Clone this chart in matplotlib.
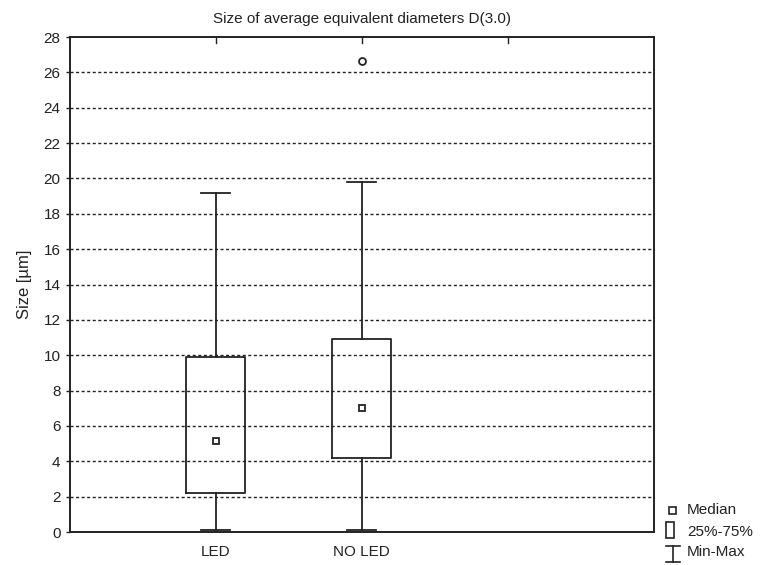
import matplotlib
matplotlib.use("Agg")
import matplotlib.pyplot as plt
from matplotlib.lines import Line2D
from matplotlib.patches import Rectangle

plt.rcParams['font.family'] = ['Liberation Sans', 'DejaVu Sans']

categories = ["LED", "NO LED"]
mins = [0.1, 0.1]
q1s = [2.2, 4.2]
medians = [5.15, 7.0]
q3s = [9.9, 10.9]
maxs = [19.2, 19.8]
outliers = [[], [26.65]]
yticks = list(range(0, 29, 2))

fig = plt.figure(figsize=(7.7, 5.65), dpi=100)
ax = fig.add_axes([0.0904, 0.0584, 0.849 - 0.0904, 0.9345 - 0.0584])

stats = []
for i, c in enumerate(categories):
    stats.append(dict(label=c, whislo=mins[i], q1=q1s[i], med=medians[i],
                      q3=q3s[i], whishi=maxs[i], fliers=outliers[i]))

positions = [1, 2]
ax.bxp(stats, positions=positions, widths=0.4, showfliers=True,
       boxprops=dict(color='#222222', linewidth=1.3),
       whiskerprops=dict(color='#222222', linewidth=1.3),
       capprops=dict(color='#222222', linewidth=1.3),
       capwidths=0.2,
       medianprops=dict(linewidth=0),
       flierprops=dict(marker='o', markerfacecolor='white', markeredgecolor='#222222',
                       markersize=5, markeredgewidth=1.3),
       zorder=3)
for p, m in zip(positions, medians):
    ax.plot([p], [m], marker='s', markersize=5, markerfacecolor='white',
            markeredgecolor='#222222', markeredgewidth=1.3, linestyle='none', zorder=4)

ax.set_xlim(0, 4)
ax.set_ylim(0, 28)
ax.set_yticks(yticks)
ax.set_xticks(positions)
ax.set_xticklabels(categories)
ax.tick_params(axis='x', length=0, labelsize=11, pad=9, colors='#222222')
ax.tick_params(axis='y', direction='out', length=3, labelsize=11, colors='#222222', width=1)
for y in yticks[1:-1]:
    ax.axhline(y, color='#222222', linestyle=(0, (2.2, 1.8)), linewidth=1, zorder=1)
for xt in [1, 2, 3]:
    ax.plot([xt, xt], [28, 27.65], color='#222222', linewidth=1, zorder=2, clip_on=False)
for s in ax.spines.values():
    s.set_linewidth(1.4)
    s.set_color('#222222')

ax.set_ylabel("Size [µm]", fontsize=12, color='#222222', labelpad=8)
ax.set_title("Size of average equivalent diameters D(3.0)", fontsize=11, color='#222222', pad=10)

# legend drawn in figure pixel space
W, H = 770, 565
def fx(x): return x / W
def fy(y): return 1 - y / H
fig.add_artist(Rectangle((fx(669), fy(514)), 7 / W, 7 / H, facecolor='white',
                         edgecolor='#222222', linewidth=1.2, transform=fig.transFigure))
fig.text(fx(687), fy(510.5), "Median", fontsize=11, va='center', ha='left', color='#222222')
fig.add_artist(Rectangle((fx(665.5), fy(538)), 8 / W, 16 / H, facecolor='white',
                         edgecolor='#222222', linewidth=1.2, transform=fig.transFigure))
fig.text(fx(687), fy(531.5), "25%-75%", fontsize=11, va='center', ha='left', color='#222222')
fig.add_artist(Line2D([fx(673), fx(673)], [fy(546), fy(562)], color='#222222', linewidth=1.2,
                      transform=fig.transFigure))
fig.add_artist(Line2D([fx(666), fx(680)], [fy(546), fy(546)], color='#222222', linewidth=1.2,
                      transform=fig.transFigure))
fig.add_artist(Line2D([fx(666), fx(680)], [fy(562), fy(562)], color='#222222', linewidth=1.2,
                      transform=fig.transFigure))
fig.text(fx(687), fy(552.5), "Min-Max", fontsize=11, va='center', ha='left', color='#222222')

fig.savefig("out.png", dpi=100)
